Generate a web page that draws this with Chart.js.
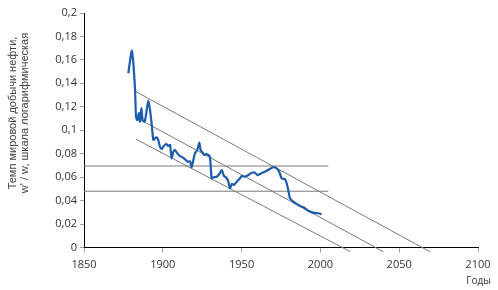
<!DOCTYPE html>
<html>
<head>
<meta charset="utf-8">
<script src="https://cdn.jsdelivr.net/npm/chart.js@4/dist/chart.umd.min.js"></script>
<style>
  html, body { margin: 0; padding: 0; background: #fff; }
  #wrap { position: relative; width: 498px; height: 290px; }
</style>
</head>
<body>
<div id="wrap"><canvas id="c" width="498" height="290"></canvas></div>
<script>
// ---- data ----
const years = [1878.1,1880.3,1881.3,1882.4,1883.0,1883.8,1884.9,1885.5,1886.4,1887.2,1888.5,1889.8,1890.8,1891.9,1893.1,1894.0,1895.1,1896.1,1897.1,1898.2,1899.3,1900.3,1902.0,1903.5,1904.6,1905.6,1906.7,1907.7,1909.2,1910.9,1912.6,1914.1,1915.8,1917.3,1918.3,1919.4,1920.4,1921.9,1923.2,1924.0,1925.3,1926.3,1927.4,1928.9,1929.9,1931.0,1932.0,1934.2,1935.9,1937.4,1938.8,1940.1,1941.6,1942.6,1943.9,1945.2,1946.9,1947.9,1949.0,1950.1,1951.5,1953.2,1954.9,1956.4,1958.5,1960.0,1961.7,1965.9,1970.1,1972.3,1973.9,1975.4,1977.5,1978.6,1979.6,1980.7,1982.8,1986.0,1989.2,1992.3,1995.5,1998.7,2000.8];
const rates = [0.1486,0.1678,0.1571,0.1343,0.1116,0.1087,0.1147,0.1073,0.1187,0.1087,0.1073,0.1173,0.1252,0.1173,0.1030,0.0917,0.0931,0.0940,0.0917,0.0860,0.0838,0.0860,0.0883,0.0866,0.0874,0.0761,0.0817,0.0832,0.0803,0.0780,0.0769,0.0752,0.0732,0.0735,0.0684,0.0746,0.0803,0.0832,0.0894,0.0832,0.0809,0.0789,0.0797,0.0789,0.0774,0.0590,0.0599,0.0604,0.0627,0.0661,0.0610,0.0599,0.0561,0.0505,0.0542,0.0533,0.0561,0.0576,0.0590,0.0610,0.0604,0.0610,0.0624,0.0638,0.0638,0.0618,0.0627,0.0655,0.0684,0.0675,0.0646,0.0590,0.0582,0.0548,0.0490,0.0420,0.0391,0.0362,0.0343,0.0314,0.0297,0.0292,0.0283];

// trend lines (start / end points)
const upperTrendX = [1883, 2069.5];
const upperTrendY = [0.1329, -0.0036];
const middleTrendX = [1883, 2040];
const middleTrendY = [0.111, -0.0036];
const lowerTrendX = [1883, 2019];
const lowerTrendY = [0.0923, -0.0036];

// horizontal reference levels
const levelX = [1850, 2005];
const levelHigh = 0.0695;
const levelLow = 0.048;

const xTicks = [1850, 1900, 1950, 2000, 2050, 2100];
const yTitleLines = ['Темп мировой добычи нефти,', 'w\' / w, шкала логарифмическая'];
const xTitle = 'Годы';

// ---- build ----
const pts = (xs, ys) => xs.map((x, i) => ({x: x, y: ys[i]}));
const grey = '#7a7a7a';
const refLine = (data) => ({
  data: data, borderColor: grey, borderWidth: 1, pointRadius: 0,
  tension: 0, fill: false, clip: false, order: 2
});

const titlesPlugin = {
  id: 'titles',
  afterDraw(chart) {
    const ctx = chart.ctx;
    ctx.save();
    ctx.fillStyle = '#404040';
    ctx.font = '11px "Liberation Sans", Arial, sans-serif';
    ctx.textAlign = 'center';
    ctx.textBaseline = 'middle';
    const cy = 113;
    [13, 25].forEach((x, i) => {
      ctx.save();
      ctx.translate(x, cy);
      ctx.rotate(-Math.PI / 2);
      ctx.fillText(yTitleLines[i], 0, 0);
      ctx.restore();
    });
    ctx.font = '10px "Open Sans", sans-serif';
    ctx.fillStyle = '#333';
    ctx.textAlign = 'right';
    ctx.fillText(xTitle, 491, 281);
    ctx.restore();
  }
};

new Chart(document.getElementById('c'), {
  type: 'line',
  data: {
    datasets: [
      { label: 'rate', data: pts(years, rates), borderColor: '#1b5cac', borderWidth: 2.2,
        pointRadius: 0, tension: 0.2, fill: false, order: 1 },
      refLine(pts(upperTrendX, upperTrendY)),
      refLine(pts(middleTrendX, middleTrendY)),
      refLine(pts(lowerTrendX, lowerTrendY)),
      refLine(pts(levelX, [levelHigh, levelHigh])),
      refLine(pts(levelX, [levelLow, levelLow]))
    ]
  },
  options: {
    responsive: false,
    animation: false,
    devicePixelRatio: 1,
    layout: { padding: { left: 0, right: 20, top: 13, bottom: 0 } },
    plugins: { legend: { display: false }, tooltip: { enabled: false } },
    scales: {
      x: {
        type: 'linear', min: 1850, max: 2100,
        afterBuildTicks: (s) => { s.ticks = xTicks.map(v => ({value: v})); },
        afterFit: (s) => { s.height = 42.5; },
        border: { display: true, color: '#000', width: 1 },
        grid: { display: true, drawOnChartArea: false, drawTicks: true, tickLength: 5, color: '#a0a0a0' },
        ticks: { color: '#333', font: { family: '"Open Sans", sans-serif', size: 11 }, padding: 6, maxRotation: 0,
          callback: (v) => String(v) }
      },
      y: {
        min: 0, max: 0.2,
        ticks: {
          stepSize: 0.02, color: '#333', font: { family: '"Open Sans", sans-serif', size: 11 }, padding: 3,
          callback: (v) => String(+v.toFixed(2)).replace('.', ',')
        },
        afterFit: (s) => { s.width = 84; },
        border: { display: true, color: '#000', width: 1 },
        grid: { display: true, drawOnChartArea: false, drawTicks: true, tickLength: 4, color: '#a0a0a0' }
      }
    }
  },
  plugins: [titlesPlugin]
});
</script>
</body>
</html>
